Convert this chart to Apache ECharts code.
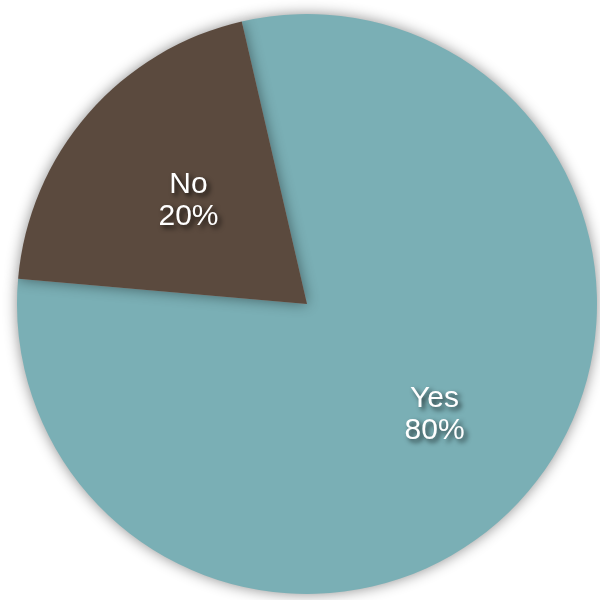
<!DOCTYPE html>
<html>
<head>
<meta charset="utf-8">
<style>
  html, body { margin: 0; padding: 0; background: #ffffff; }
  #chart { width: 600px; height: 600px; }
</style>
<script src="https://cdn.jsdelivr.net/npm/echarts@6/dist/echarts.min.js"></script>
</head>
<body>
<div id="chart"></div>
<script>
// Survey answers and their shares (percent)
const categories = ['Yes', 'No'];
const shares = [80, 20];
const sliceColors = ['#7aafb5', '#5b4a3e'];

const pieCenter = [307, 304];
const pieStart = 103;

const labelStyle = {
  show: true,
  position: 'inside',
  formatter: p => p.name + '\n' + p.value + '%',
  color: '#ffffff',
  fontFamily: '"Liberation Sans", Arial, sans-serif',
  fontSize: 30,
  lineHeight: 32,
  align: 'center',
  textShadowColor: 'rgba(0,0,0,0.75)',
  textShadowBlur: 5,
  textShadowOffsetX: 3,
  textShadowOffsetY: 3
};

// transparent pie that only carries the label of one answer;
// its outer radius sets how far from the centre that label sits
function labelCarrier(shownIndex, outerRadius) {
  return {
    type: 'pie',
    center: pieCenter,
    radius: [0, outerRadius],
    startAngle: pieStart,
    clockwise: true,
    silent: true,
    itemStyle: { color: 'rgba(0,0,0,0)', borderWidth: 0 },
    labelLine: { show: false },
    data: categories.map((name, i) => ({
      name: name,
      value: shares[i],
      label: i === shownIndex ? labelStyle : { show: false }
    }))
  };
}

const chart = echarts.init(document.getElementById('chart'), null, { renderer: 'canvas' });

chart.setOption({
  animation: false,
  backgroundColor: '#ffffff',
  series: [
    {
      // the pie itself, with a soft drop shadow
      type: 'pie',
      center: pieCenter,
      radius: [0, 290],
      startAngle: pieStart,
      clockwise: true,
      silent: true,
      label: { show: false },
      labelLine: { show: false },
      itemStyle: {
        borderWidth: 0,
        shadowBlur: 14,
        shadowColor: 'rgba(0,0,0,0.45)',
        shadowOffsetX: 0,
        shadowOffsetY: 0
      },
      data: categories.map((name, i) => ({
        name: name,
        value: shares[i],
        itemStyle: { color: sliceColors[i] }
      }))
    },
    labelCarrier(0, 332),
    labelCarrier(1, 308)
  ]
});
</script>
</body>
</html>
